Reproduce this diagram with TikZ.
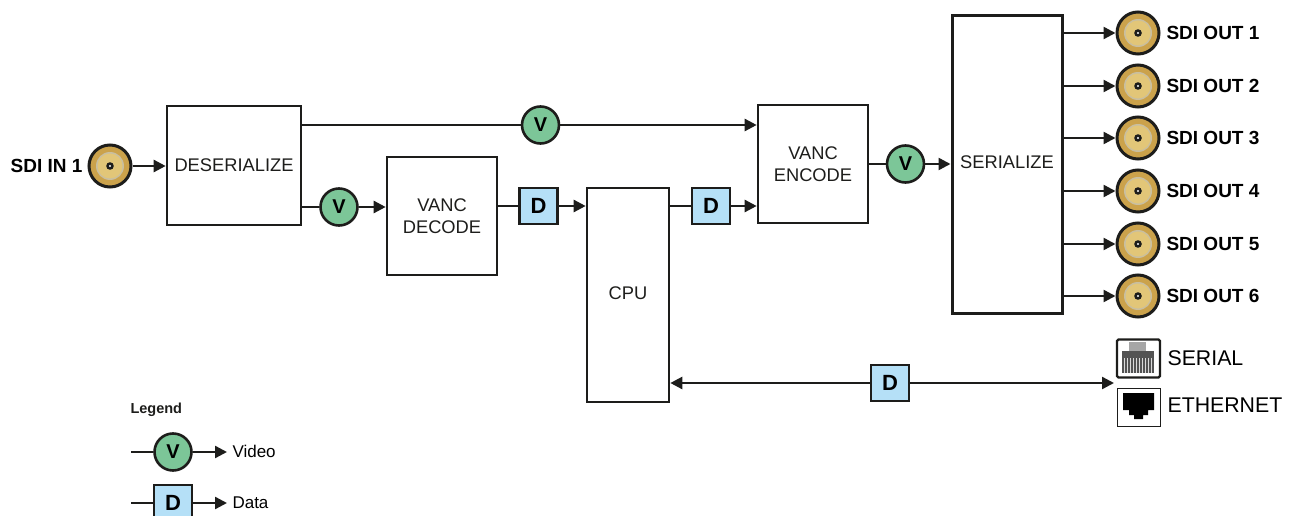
\documentclass[tikz,border=0pt]{standalone}
\usepackage{fontspec}
\setmainfont{Liberation Sans}
\usetikzlibrary{arrows.meta}
\definecolor{vgreen}{HTML}{7CC698}
\definecolor{dblue}{HTML}{B5E0F7}
\definecolor{bncgold}{HTML}{CBA24B}
\definecolor{bncring}{HTML}{C9BFA0}
\definecolor{bnccore}{HTML}{E2C678}
\definecolor{inkblack}{HTML}{1D1D1B}
\begin{document}
\begin{tikzpicture}[x=1pt,y=-1pt,
  font=\fontsize{18.3}{21}\selectfont,
  block/.style={draw=inkblack,line width=2.6pt,fill=white,align=center,inner sep=0pt,text=inkblack},
  vsig/.style={circle,draw=inkblack,line width=2.6pt,fill=vgreen,minimum size=37pt,inner sep=0pt,font=\fontsize{20}{20}\selectfont\bfseries},
  dsig/.style={rectangle,draw=inkblack,line width=2.6pt,fill=dblue,minimum width=38pt,minimum height=36pt,inner sep=0pt,font=\fontsize{22}{22}\selectfont\bfseries},
  bnc/.style={circle,draw=inkblack,line width=3pt,fill=bncgold,minimum size=42pt,inner sep=0pt,
    path picture={
      \fill[bncring] (path picture bounding box.center) circle (14pt);
      \fill[bnccore] (path picture bounding box.center) circle (12.5pt);
      \fill[inkblack] (path picture bounding box.center) circle (3.8pt);
      \fill[white] (path picture bounding box.center) circle (1.2pt);}},
  plug/.style={draw=inkblack,line width=1.5pt,fill=white,minimum width=43pt,minimum height=38pt,inner sep=0pt},
  sdilabel/.style={anchor=west,font=\fontsize{19}{22}\selectfont\bfseries},
  portlabel/.style={anchor=west,font=\fontsize{21.3}{24}\selectfont},
  keylabel/.style={anchor=west,font=\fontsize{17}{20}\selectfont},
  wire/.style={draw=inkblack,line width=2.4pt},
  arrow/.style={wire,-{Triangle[length=12pt,width=12pt]}}]
    \useasboundingbox (0,0) rectangle (1291,516);
    % blocks
    \node[block,minimum width=134pt,minimum height=119pt](deser) at (234,165.5){DESERIALIZE};
    \node[block,minimum width=110pt,minimum height=118pt](vdec) at (442,216){VANC\\[1pt]DECODE};
    \node[block,minimum width=82pt,minimum height=214pt,text depth=4pt](cpu) at (628,295){CPU};
    \node[block,minimum width=110pt,minimum height=118pt](venc) at (813,164){VANC\\[1pt]ENCODE};
    \node[block,line width=3pt,minimum width=110pt,minimum height=297pt,text depth=4pt](ser) at (1007,164.5){SERIALIZE};
    % input
    \node[bnc](in1) at (110,166){};
    \node[sdilabel,anchor=east](in1l) at (86,166){SDI IN 1};
    % outputs
    \foreach \n/\y in {1/33,2/86,3/138,4/191,5/244,6/296}{
        \node[bnc](out\n) at (1138,\y){};
        \node[sdilabel](out\n l) at (1163,\y){SDI OUT \n};
        \draw[arrow](ser.east |- out\n) -- (out\n);
    }
    % signals
    \node[vsig](v1) at (540.5,125){V};
    \node[vsig](v2) at (339,207){V};
    \node[vsig](v3) at (905.5,164){V};
    \node[dsig](d1) at (538.5,206){D};
    \node[dsig](d2) at (711,206){D};
    \node[dsig](d3) at (890,383){D};
    % ports
    \node[plug,line width=2.2pt,rounded corners=1.5pt](serial) at (1138.5,358.5){};
    \fill[gray!70] (1129,342) rectangle (1146,351);
    \fill[gray!65!black] (1122,351) rectangle (1154,373);
    \foreach \x in {1124,1127,...,1152}
        \draw[gray!30,line width=.6pt] (\x,358) -- (\x,373);
    \node[plug,line width=1pt](ether) at (1138.5,407){};
    \fill[black] (1123,393) -- (1154,393) -- (1154,410) -- (1148,410) -- (1148,415) -- (1143,415) -- (1143,419) -- (1134,419) -- (1134,415) -- (1129,415) -- (1129,410) -- (1123,410) -- cycle;
    \node[portlabel](seriall) at (1164,358){SERIAL};
    \node[portlabel](etherl) at (1164,405){ETHERNET};
    \coordinate (portend) at (1114,383);
    % connections
    \draw[arrow](in1) -- (deser.west |- in1);
    \draw[wire](deser.east |- v1) -- (v1);
    \draw[arrow](v1) -- (venc.west |- v1);
    \draw[wire](deser.east |- v2) -- (v2);
    \draw[arrow](v2) -- (vdec.west |- v2);
    \draw[wire](vdec.east |- d1) -- (d1);
    \draw[arrow](d1) -- (cpu.west |- d1);
    \draw[wire](cpu.east |- d2) -- (d2);
    \draw[arrow](d2) -- (venc.west |- d2);
    \draw[wire](venc.east |- v3) -- (v3);
    \draw[arrow](v3) -- (ser.west |- v3);
    \draw[arrow](d3) -- (cpu.east |- d3);
    \draw[arrow](d3) -- (portend);
    % legend
    \node[anchor=west,font=\fontsize{14.5}{17}\selectfont\bfseries,text=inkblack](legend) at (127,410){Legend};
    \node[vsig](kv) at (173,452){V};
    \node[dsig](kd) at (173,503){D};
    \coordinate (kv0) at (131,452);
    \coordinate (kv1) at (227,452);
    \coordinate (kd0) at (131,503);
    \coordinate (kd1) at (227,503);
    \draw[wire](kv0) -- (kv);
    \draw[arrow](kv) -- (kv1);
    \draw[wire](kd0) -- (kd);
    \draw[arrow](kd) -- (kd1);
    \node[keylabel](kvl) at (229,451.5){Video};
    \node[keylabel](kdl) at (229,502.5){Data};
\end{tikzpicture}
\end{document}
